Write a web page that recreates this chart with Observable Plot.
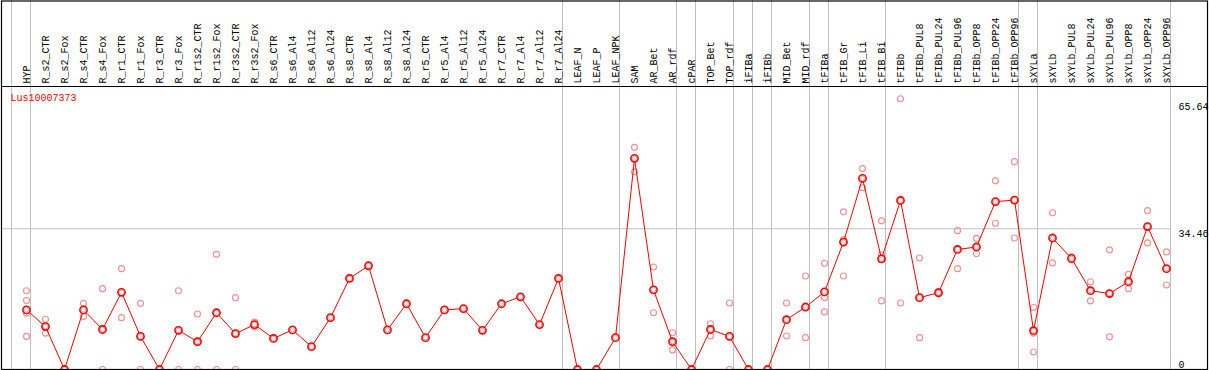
<!DOCTYPE html>
<html><head><meta charset="utf-8">
<script src="https://cdn.jsdelivr.net/npm/d3@7"></script>
<script src="https://cdn.jsdelivr.net/npm/@observablehq/plot@0.6"></script>
<style>body{margin:0;background:#fff} svg{display:block}</style>
</head><body><div id="chart"></div>
<script>
const title = "Lus10007373";
const labels = ["HYP","R_s2_CTR","R_s2_Fox","R_s4_CTR","R_s4_Fox","R_r1_CTR","R_r1_Fox","R_r3_CTR","R_r3_Fox","R_r1s2_CTR","R_r1s2_Fox","R_r3s2_CTR","R_r3s2_Fox","R_s6_CTR","R_s6_Al4","R_s6_Al12","R_s6_Al24","R_s8_CTR","R_s8_Al4","R_s8_Al12","R_s8_Al24","R_r5_CTR","R_r5_Al4","R_r5_Al12","R_r5_Al24","R_r7_CTR","R_r7_Al4","R_r7_Al12","R_r7_Al24","LEAF_N","LEAF_P","LEAF_NPK","SAM","AR_Bet","AR_rdf","cPAR","TOP_Bet","TOP_rdf","iFIBa","iFIBb","MID_Bet","MID_rdf","tFIBa","tFIB_Gr","tFIB_Li","tFIB_Bi","tFIBb","tFIBb_PUL8","tFIBb_PUL24","tFIBb_PUL96","tFIBb_OPP8","tFIBb_OPP24","tFIBb_OPP96","sXYLa","sXYLb","sXYLb_PUL8","sXYLb_PUL24","sXYLb_PUL96","sXYLb_OPP8","sXYLb_OPP24","sXYLb_OPP96"];
const means = [14.6,10.5,0,14.6,9.8,18.9,8.1,0,9.6,6.8,13.9,8.8,11.0,7.6,9.7,5.6,12.7,22.3,25.4,9.7,16.1,7.8,14.6,14.9,9.6,16.1,17.8,11.0,22.3,0,0,7.8,51.7,19.5,6.8,0,9.8,8.1,0,0,12.2,15.3,19.0,31.2,46.8,27.1,41.4,17.6,18.8,29.4,30.0,41.1,41.5,9.5,32.2,27.2,19.3,18.6,21.5,35.0,24.7];
const reps = [[19.3,16.9,13.8,8.1],[12.3,8.9],[0,0],[16.2,13.0],[19.8,0],[24.7,12.7],[16.2,0],[0,0],[19.3,0],[13.6,0],[28.2,0],[17.6,0],[11.6,10.4],[],[],[],[],[],[],[],[],[],[],[],[],[],[],[],[],[0],[0],[],[54.4,48.4],[25.1,13.9],[9.0,4.8],[0,0],[11.2,8.2],[16.3,0],[0],[0],[16.3,8.2],[22.9,7.8],[26.0,17.6,14.1],[38.6,31.8,22.9],[49.2,44.5],[36.4,28.1,16.8],[66.3,16.3],[27.3,7.8],[19.1,18.5],[34.0,24.7],[32.1,28.4],[46.2,35.8],[50.9,32.2],[15.2,8.9,4.3],[38.4,26.1],[27.6,26.8],[21.5,16.8],[29.3,8.0],[23.3,19.8],[38.9,31.0],[28.8,20.7]];
const groupStarts = [0,1,29,32,35,36,38,39,40,42,43,46,53,54,61];
const yTicks = [0, 34.46, 65.64];
const gridY = [34.46];

const meanData = means.map((v, i) => ({i, v, label: labels[i]}));
const repData = reps.flatMap((arr, i) => arr.map(v => ({i, v})));

const chart = Plot.plot({
  width: 1209, height: 370,
  marginLeft: 1, marginRight: 2, marginTop: 86, marginBottom: 1,
  style: {fontFamily: "'Liberation Mono', 'DejaVu Sans Mono', monospace", fontSize: "10px", background: "#fff"},
  x: {domain: [-25/19, -25/19 + 1206/19], axis: null},
  y: {domain: [0, 69.3], axis: null},
  marks: [
    Plot.ruleX(groupStarts, {x: d => d - 15/19, stroke: "#c0c0c0", strokeWidth: 1, insetTop: -86}),
    Plot.ruleY(gridY, {y: d => d, stroke: "#c0c0c0", strokeWidth: 1, insetRight: 37}),
    Plot.dot(repData, {x: "i", y: "v", r: 3, stroke: "#f09090", strokeWidth: 1.1, fill: "none"}),
    Plot.line(meanData, {x: "i", y: "v", stroke: "red", strokeWidth: 1}),
    Plot.dot(meanData, {x: "i", y: "v", r: 3.6, stroke: "red", strokeWidth: 1.6, fill: "white"}),
    Plot.dot(meanData, {x: "i", y: "v", r: 2.2, stroke: "#600", strokeWidth: 0.5, strokeOpacity: 0.6, fill: "none"}),
    Plot.text(meanData, {x: "i", text: "label", rotate: -90, textAnchor: "start", lineAnchor: "middle", frameAnchor: "top", dy: -3, fill: "black"}),
    Plot.text(yTicks.filter(d => d > 0), {y: d => d, text: d => String(d), frameAnchor: "right", textAnchor: "start", lineAnchor: "top", dx: -29, dy: 1, fill: "black"}),
    Plot.text(yTicks.filter(d => d === 0), {y: d => d, text: d => String(d), frameAnchor: "right", textAnchor: "start", lineAnchor: "bottom", dx: -29, dy: -2, fill: "black"}),
    Plot.text([title], {text: d => d, frameAnchor: "top-left", textAnchor: "start", lineAnchor: "middle", dx: 9, dy: 11, fill: "red"}),
    Plot.frame({stroke: "black", strokeWidth: 1.2, insetTop: -85.5}),
    Plot.frame({stroke: "black", strokeWidth: 1})
  ]
});
document.getElementById("chart").appendChild(chart);
</script>
</body></html>
